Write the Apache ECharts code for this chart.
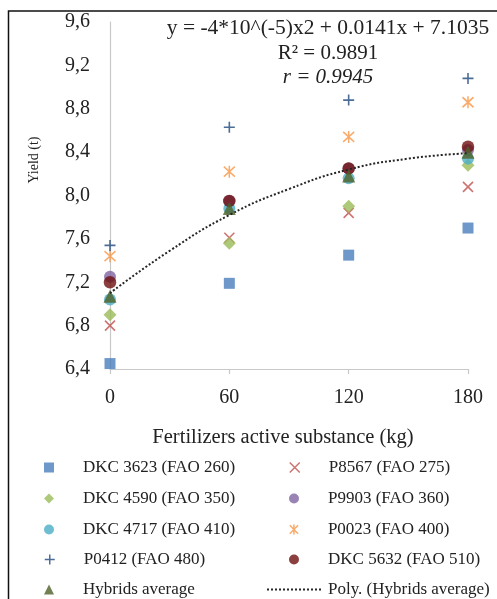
<!DOCTYPE html>
<html>
<head>
<meta charset="utf-8">
<script src="https://cdn.jsdelivr.net/npm/echarts@6/dist/echarts.min.js"></script>
<style>
  html, body { margin: 0; padding: 0; background: #fff; }
  #chart { width: 497px; height: 599px; }
</style>
</head>
<body>
<div id="chart"></div>
<script>
// fertilizer doses (kg) and yields (t)
const doses = [0, 60, 120, 180];
const dkc3623 = [6.45, 7.19, 7.45, 7.70];
const p8567 = [6.80, 7.61, 7.84, 8.08];
const dkc4590 = [6.90, 7.56, 7.90, 8.28];
const p9903 = [7.25, 7.95, 8.25, 8.42];
const dkc4717 = [7.04, 7.88, 8.16, 8.34];
const p0023 = [7.44, 8.22, 8.54, 8.86];
const p0412 = [7.54, 8.63, 8.88, 9.08];
const dkc5632 = [7.20, 7.95, 8.25, 8.45];
const hybridsAvg = [7.07, 7.88, 8.18, 8.40];

// points
const trendX = [0, 30, 60, 90, 120, 150, 180];
const trendY = [7.10, 7.49, 7.82, 8.06, 8.24, 8.34, 8.39];

const names = [
  'DKC 3623 (FAO 260)', 'P8567 (FAO 275)',
  'DKC 4590 (FAO 350)', 'P9903 (FAO 360)',
  'DKC 4717 (FAO 410)', 'P0023 (FAO 400)',
  'P0412 (FAO 480)', 'DKC 5632 (FAO 510)',
  'Hybrids average'
];
const trendName = 'Poly. (Hybrids average)';
const values = [dkc3623, p8567, dkc4590, p9903, dkc4717, p0023, p0412, dkc5632, hybridsAvg];

const crossX = 'path://M0,0L10,10M10,0L0,10';
const plus = 'path://M5,0L5,10M0,5L10,5';
const star = 'path://M0,1L10,11M10,1L0,11M5,0L5,12';

const markers = [
  { symbol: 'rect', size: 11, color: '#4a7ebb' },
  { symbol: crossX, size: 10, color: '#c0504d', stroke: true },
  { symbol: 'diamond', size: 13, color: '#9bbb59' },
  { symbol: 'circle', size: 12, color: '#8064a2' },
  { symbol: 'circle', size: 12, color: '#4bacc6' },
  { symbol: star, size: [11, 12], color: '#f79646', stroke: true },
  { symbol: plus, size: 11, color: '#1f497d', stroke: true },
  { symbol: 'circle', size: 12.5, color: '#6e0f0f' },
  { symbol: 'triangle', size: 13, color: '#4f6228' }
];

const serif = 'Liberation Serif';

const series = names.map((name, i) => {
  const m = markers[i];
  return {
    name: name,
    type: 'scatter',
    symbol: m.symbol,
    symbolSize: m.size,
    itemStyle: m.stroke
      ? { color: m.color, borderColor: m.color, borderWidth: 1.6 }
      : { color: m.color },
    data: doses.map((d, j) => [d, values[i][j]])
  };
});

series.push({
  name: trendName,
  type: 'line',
  smooth: true,
  symbol: 'none',
  itemStyle: { color: '#262626' },
  lineStyle: { color: '#262626', width: 2, type: [2, 2] },
  data: trendX.map((x, j) => [x, trendY[j]]),
  z: 5
});

// one legend per entry so the two-column layout sits where it does in the figure
const rowY = [465, 496, 527, 557, 587];
const iconX = [49, 294];
const legendNames = names.concat([trendName]);
const legends = legendNames.map((name, i) => {
  const m = markers[i];
  const col = i % 2;
  const top = rowY[Math.floor(i / 2)] - 6;
  const text = { fontFamily: serif, fontSize: 17, color: '#222' };
  if (!m) {
    // dotted trend line entry
    return {
      data: [name], left: 266, top: top, padding: 0,
      itemWidth: 56, itemHeight: 10, selectedMode: false,
      itemStyle: { color: 'rgba(0,0,0,0)', borderWidth: 0, opacity: 0 },
      textStyle: text
    };
  }
  return {
    data: [name],
    left: iconX[col] - 5,
    top: top,
    padding: 0,
    itemWidth: 10,
    itemHeight: 10,
    selectedMode: false,
    itemStyle: { borderWidth: m.stroke ? 1.5 : 0 },
    textStyle: Object.assign({ padding: [0, 0, 0, 24] }, text)
  };
});

const chart = echarts.init(document.getElementById('chart'));
chart.setOption({
  animation: false,
  backgroundColor: '#fff',
  grid: { left: 110, right: 29, top: 22, bottom: 230, outerBoundsMode: 'none' },
  xAxis: {
    type: 'value',
    min: 0,
    max: 180,
    interval: 60,
    name: 'Fertilizers active substance (kg)',
    nameLocation: 'middle',
    nameGap: 58,
    nameTextStyle: { fontFamily: serif, fontSize: 20.5, color: '#222', padding: [0, 12, 0, 0] },
    axisLine: { lineStyle: { color: '#c8c8c8', width: 1.2 } },
    axisTick: { show: true, length: 5, lineStyle: { color: '#c8c8c8', width: 1.2 } },
    axisLabel: { fontFamily: serif, fontSize: 20, color: '#222', margin: 19 },
    splitLine: { show: false }
  },
  yAxis: {
    type: 'value',
    min: 6.4,
    max: 9.6,
    interval: 0.4,
    axisLine: { show: true, lineStyle: { color: '#c8c8c8', width: 1.2 } },
    axisTick: { show: false },
    axisLabel: {
      fontFamily: serif, fontSize: 20, color: '#222', margin: 20,
      formatter: v => v.toFixed(1).replace('.', ',')
    },
    splitLine: { show: false }
  },
  legend: legends,
  graphic: [
    {
      type: 'rect',
      shape: { x: 8.5, y: 11, width: 600, height: 700 },
      style: { fill: 'none', stroke: '#111', lineWidth: 1.5 },
      silent: true
    },
    {
      type: 'text', x: 34, y: 160, rotation: Math.PI / 2,
      style: { text: 'Yield (t)', font: '14px "Liberation Serif"', fill: '#222', textAlign: 'center', textVerticalAlign: 'middle' }
    },
    {
      type: 'text', x: 328, y: 28,
      style: { text: 'y = -4*10^(-5)x2 + 0.0141x + 7.1035', font: '21.5px "Liberation Serif"', fill: '#222', textAlign: 'center', textVerticalAlign: 'middle' }
    },
    {
      type: 'text', x: 328, y: 53,
      style: { text: 'R² = 0.9891', font: '21px "Liberation Serif"', fill: '#222', textAlign: 'center', textVerticalAlign: 'middle' }
    },
    {
      type: 'text', x: 328, y: 77,
      style: { text: 'r = 0.9945', font: 'italic 21px "Liberation Serif"', fill: '#222', textAlign: 'center', textVerticalAlign: 'middle' }
    }
  ],
  series: series
});
</script>
</body>
</html>
